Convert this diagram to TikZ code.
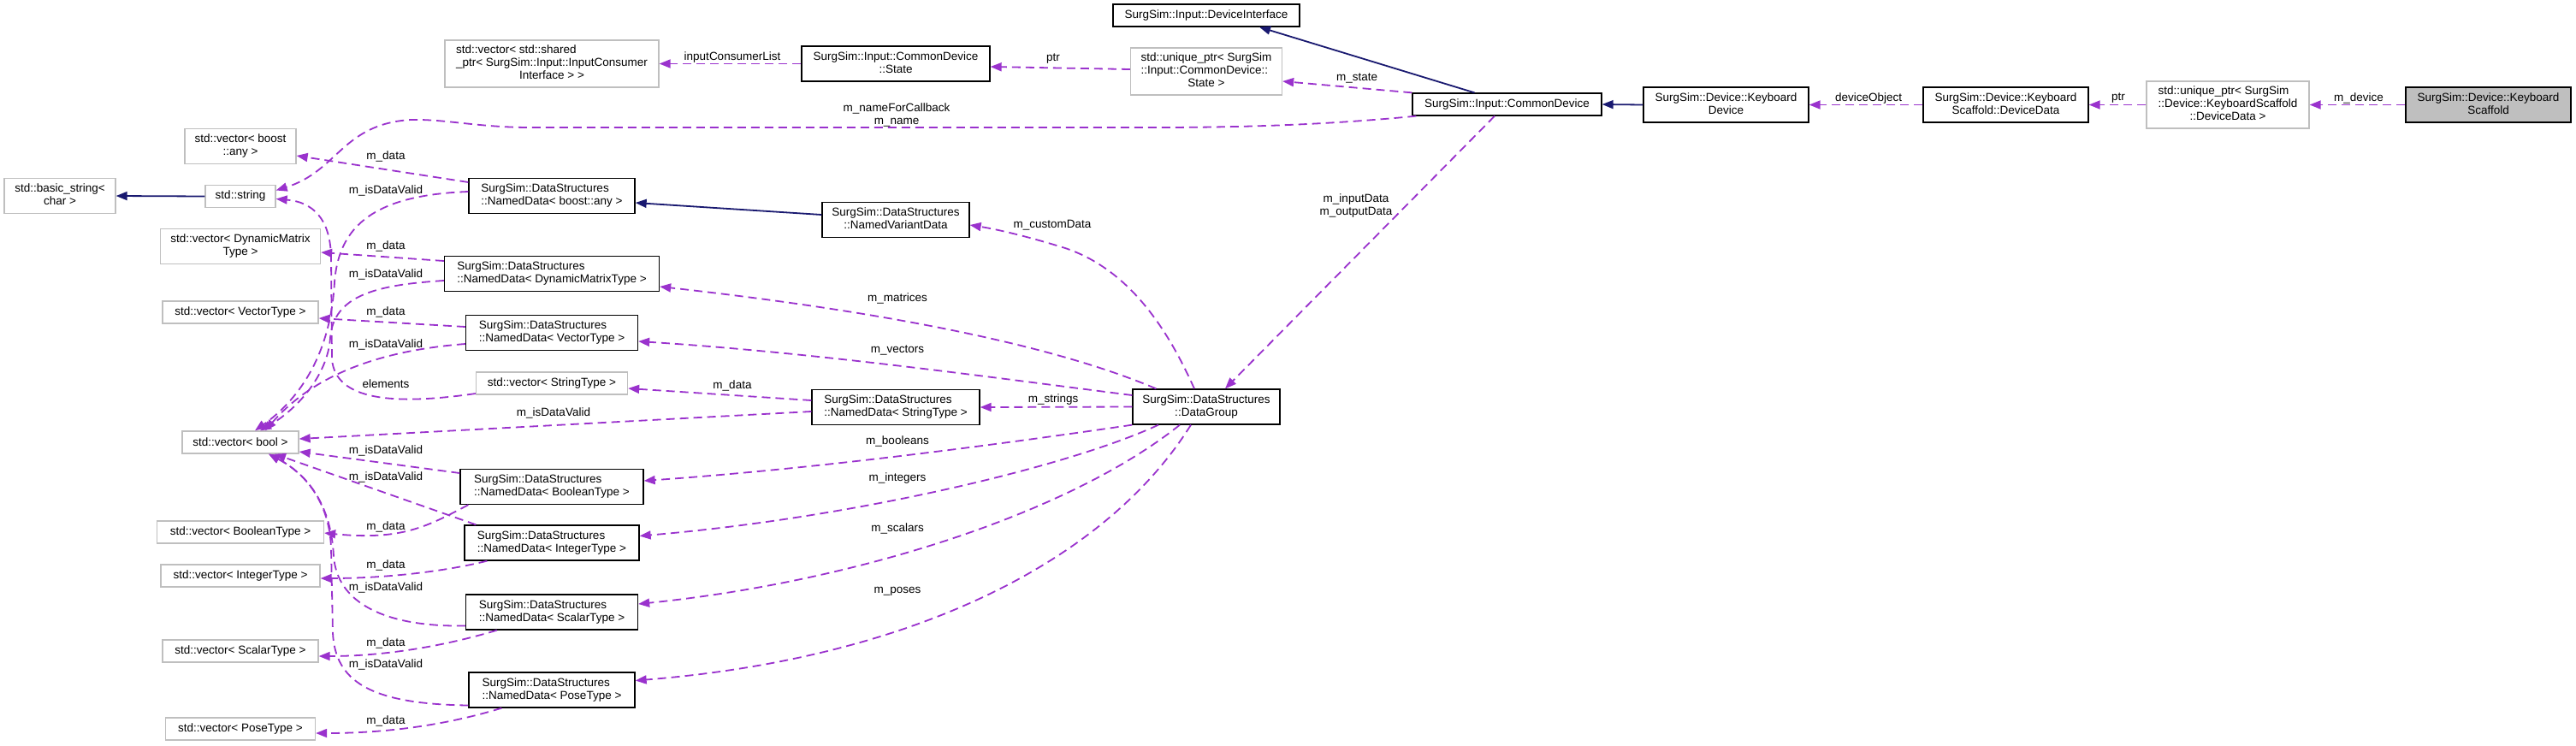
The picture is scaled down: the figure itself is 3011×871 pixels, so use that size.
\documentclass[tikz,border=0pt]{standalone}
\usepackage{fontspec}
\setmainfont{Liberation Sans}
\usetikzlibrary{arrows.meta,calc}
\definecolor{usecol}{HTML}{9A32CD}
\definecolor{inhcol}{HTML}{191970}
\definecolor{extcol}{HTML}{BFBFBF}
\newcommand{\ml}[2]{\begin{tabular}{@{}l@{}}#1\\\multicolumn{1}{@{}c@{}}{#2}\end{tabular}}
\tikzset{
  base/.style={rectangle, inner sep=0pt, font=\fontsize{13.5}{15}\selectfont, fill=white, line width=1.3pt},
  cls/.style={base, draw=black},
  ext/.style={base, draw=extcol},
  mainbox/.style={base, draw=black, fill=extcol},
  one/.style={minimum height=26pt},
  two/.style={minimum height=41pt},
  three/.style={minimum height=55pt},
  use/.style={draw=usecol, line width=1.8pt, dash pattern=on 10pt off 6pt, -{Triangle[length=13pt,width=10pt]}},
  inh/.style={draw=inhcol, line width=1.8pt, -{Triangle[length=13pt,width=10pt]}},
  lbl/.style={inner sep=0pt, font=\fontsize{13.5}{15}\selectfont, text=black, align=center}
}
\begin{document}
\begin{tikzpicture}[x=1pt,y=-1pt]
\fill[white] (0,0) rectangle (3011,871);
\useasboundingbox (0,0) rectangle (3011,871);

% left column
\node[ext, two, minimum width=130pt] (A) at (70,229) {\ml{std::basic\_string<}{char >}};
\node[ext, one, minimum width=82pt] (B) at (281,229.5) {std::string};
\node[ext, two, minimum width=130pt] (C) at (281,171) {\ml{std::vector< boost}{::any >}};
\node[ext, two, minimum width=187pt] (D) at (281,288) {\ml{std::vector< DynamicMatrix}{Type >}};
\node[ext, one, minimum width=182pt] (E) at (281,365) {std::vector< VectorType >};
\node[ext, one, minimum width=136pt] (F) at (281,517) {std::vector< bool >};
\node[ext, one, minimum width=195pt] (G) at (281,622) {std::vector< BooleanType >};
\node[ext, one, minimum width=186pt] (H) at (281,673) {std::vector< IntegerType >};
\node[ext, one, minimum width=182pt] (I) at (281,761) {std::vector< ScalarType >};
\node[ext, one, minimum width=175pt] (J) at (281,852) {std::vector< PoseType >};

% second column
\node[ext, three, minimum width=250pt] (K) at (645,74.5) {\ml{std::vector< std::shared\\\_ptr< SurgSim::Input::InputConsumer}{Interface > >}};
\node[cls, two, minimum width=194pt] (L) at (645,229) {\ml{SurgSim::DataStructures}{::NamedData< boost::any >}};
\node[cls, two, minimum width=251pt] (N) at (645,320) {\ml{SurgSim::DataStructures}{::NamedData< DynamicMatrixType >}};
\node[cls, two, minimum width=201pt] (O) at (645,389) {\ml{SurgSim::DataStructures}{::NamedData< VectorType >}};
\node[ext, one, minimum width=177pt] (P) at (645,448) {std::vector< StringType >};
\node[cls, two, minimum width=214pt] (R) at (645,569) {\ml{SurgSim::DataStructures}{::NamedData< BooleanType >}};
\node[cls, two, minimum width=204pt] (S) at (645,634.5) {\ml{SurgSim::DataStructures}{::NamedData< IntegerType >}};
\node[cls, two, minimum width=201pt] (T) at (645,715.5) {\ml{SurgSim::DataStructures}{::NamedData< ScalarType >}};
\node[cls, two, minimum width=194pt] (U) at (645,806.5) {\ml{SurgSim::DataStructures}{::NamedData< PoseType >}};

% third column
\node[cls, two, minimum width=220pt] (W) at (1047,74.5) {\ml{SurgSim::Input::CommonDevice}{::State}};
\node[cls, two, minimum width=172pt] (M) at (1047,257) {\ml{SurgSim::DataStructures}{::NamedVariantData}};
\node[cls, two, minimum width=196pt] (Q) at (1047,476) {\ml{SurgSim::DataStructures}{::NamedData< StringType >}};

% fourth column
\node[cls, one, minimum width=218pt] (Y) at (1410,18) {SurgSim::Input::DeviceInterface};
\node[ext, three, minimum width=177pt] (X) at (1410,83.5) {\ml{std::unique\_ptr< SurgSim\\::Input::CommonDevice::}{State >}};
\node[cls, two, minimum width=172pt] (V) at (1410,475.5) {\ml{SurgSim::DataStructures}{::DataGroup}};

% right chain
\node[cls, one, minimum width=221pt] (Z) at (1761.5,122) {SurgSim::Input::CommonDevice};
\node[cls, two, minimum width=193pt] (KD) at (2017.5,122.5) {\ml{SurgSim::Device::Keyboard}{Device}};
\node[cls, two, minimum width=193pt] (KDD) at (2344.5,122.5) {\ml{SurgSim::Device::Keyboard}{Scaffold::DeviceData}};
\node[ext, three, minimum width=190pt] (UDD) at (2604,122.5) {\ml{std::unique\_ptr< SurgSim\\::Device::KeyboardScaffold}{::DeviceData >}};
\node[mainbox, two, minimum width=193pt] (KS) at (2908.5,122.5) {\ml{SurgSim::Device::Keyboard}{Scaffold}};

% inheritance
\draw[inh] (B.west) -- (A.east);
\draw[inh] ($(M.west)+(0,-6)$) -- ($(L.east)+(0,8)$);
\draw[inh] ($(Z.north)+(-38,0)$) -- ($(Y.south)+(62,0)$);
\draw[inh] (KD.west) -- (Z.east);

% usage: right part
\draw[use] (KS.west) -- (UDD.east);
\draw[use] (UDD.west) -- (KDD.east);
\draw[use] (KDD.west) -- (KD.east);
\draw[use] (Z.north west) -- ($(X.east)+(0,11.5)$);
\draw[use] ($(X.west)+(0,-2.5)$) -- ($(W.east)+(0,3.5)$);
\draw[use] (W.west) -- (K.east);
\draw[use] ($(Z.south west)+(5,0)$) .. controls (1550,146) and (1450,149) .. (1350,149) -- (620,149) .. controls (560,149) and (520,139) .. (480,140) .. controls (400,145) and (395,200) .. ($(B.east)+(0,-7)$);
\draw[use] ($(Z.south)+(-14.5,0)$) -- ($(V.north)+(22,0)$);

% usage: from DataGroup
\draw[use] ($(V.north)+(-14,0)$) .. controls (1365,385) and (1320,315) .. (1245,290) .. controls (1200,276) and (1165,268) .. ($(M.east)+(0,6)$);
\draw[use] ($(V.north west)+(28,0)$) .. controls (1200,390) and (950,355) .. ($(N.east)+(0,15)$);
\draw[use] ($(V.west)+(0,-13.5)$) .. controls (1150,440) and (950,412) .. ($(O.east)+(0,10)$);
\draw[use] (V.west) -- (Q.east);
\draw[use] (V.south west) .. controls (1150,522) and (950,548) .. ($(R.east)+(0,-7)$);
\draw[use] ($(V.south)+(-56,0)$) .. controls (1250,545) and (1000,605) .. ($(S.east)+(0,-8)$);
\draw[use] ($(V.south)+(-31,0)$) .. controls (1250,600) and (1000,680) .. ($(T.east)+(0,-9.5)$);
\draw[use] ($(V.south)+(-18,0)$) .. controls (1290,660) and (1060,770) .. ($(U.east)+(0,-11)$);

% usage: NamedData members
\draw[use] ($(L.west)+(0,-16)$) -- ($(C.east)+(0,11)$);
\draw[use] ($(L.west)+(0,-5)$) .. controls (440,228) and (396,262) .. (391,330) .. controls (386,420) and (345,470) .. ($(F.north)+(17,0)$);
\draw[use] ($(N.west)+(0,-15)$) -- ($(D.east)+(0,7)$);
\draw[use] ($(N.west)+(0,8)$) .. controls (440,333) and (390,345) .. (386,395) .. controls (383,440) and (345,480) .. ($(F.north)+(23,0)$);
\draw[use] ($(O.west)+(0,-7)$) -- ($(E.east)+(0,7)$);
\draw[use] ($(O.west)+(0,13)$) .. controls (440,410) and (365,440) .. ($(F.north)+(29,0)$);
\draw[use] ($(P.west)+(0,12)$) .. controls (460,474) and (392,468) .. (388,420) -- (387,300) .. controls (386,255) and (365,236) .. ($(B.east)+(0,3)$);
\draw[use] ($(Q.west)+(0,-8)$) -- ($(P.east)+(0,6)$);
\draw[use] ($(Q.west)+(0,5)$) -- ($(F.east)+(0,-4)$);
\draw[use] ($(R.west)+(0,-16)$) -- ($(F.east)+(0,11)$);
\draw[use] ($(R.south west)+(10,0)$) .. controls (500,615) and (470,632) .. ($(G.east)+(0,1)$);
\draw[use] ($(S.north west)+(14,0)$) -- ($(F.south)+(40,0)$);
\draw[use] ($(S.south west)+(27,0)$) .. controls (520,668) and (450,676) .. ($(H.east)+(0,3)$);
\draw[use] ($(T.west)+(0,16)$) .. controls (450,733) and (394,705) .. (390,650) .. controls (387,590) and (360,555) .. ($(F.south)+(33,0)$);
\draw[use] ($(T.south west)+(37,0)$) .. controls (520,755) and (450,767) .. ($(I.east)+(0,6)$);
\draw[use] ($(U.west)+(0,18)$) .. controls (430,823) and (392,795) .. (389,740) -- (387,640) .. controls (385,590) and (360,555) .. ($(F.south)+(33,0)$);
\draw[use] ($(U.south west)+(39,0)$) .. controls (520,848) and (450,857) .. ($(J.east)+(0,5)$);

% labels
\node[lbl] (t1) at (2757,115) {m\_device};
\node[lbl] (t2) at (2476,115) {ptr};
\node[lbl] (t3) at (2184,115) {deviceObject};
\node[lbl] (t4) at (1586,91) {m\_state};
\node[lbl] (t5) at (1231,69) {ptr};
\node[lbl] (t6) at (856,67) {inputConsumerList};
\node[lbl] (t7) at (1048,134) {m\_nameForCallback\\m\_name};
\node[lbl] (t8) at (1585,240.5) {m\_inputData\\m\_outputData};
\node[lbl] (t9) at (1230,263) {m\_customData};
\node[lbl] (t10) at (1049,349) {m\_matrices};
\node[lbl] (t11) at (1049,409) {m\_vectors};
\node[lbl] (t12) at (856,451) {m\_data};
\node[lbl] (t13) at (647,483) {m\_isDataValid};
\node[lbl] (t14) at (1231,467) {m\_strings};
\node[lbl] (t15) at (1049,516) {m\_booleans};
\node[lbl] (t16) at (1049,559) {m\_integers};
\node[lbl] (t17) at (1049,618) {m\_scalars};
\node[lbl] (t18) at (1049,691) {m\_poses};
\node[lbl] (u1) at (451,183) {m\_data};
\node[lbl] (u2) at (451,223) {m\_isDataValid};
\node[lbl] (u3) at (451,288) {m\_data};
\node[lbl] (u4) at (451,321) {m\_isDataValid};
\node[lbl] (u5) at (451,365) {m\_data};
\node[lbl] (u6) at (451,403) {m\_isDataValid};
\node[lbl] (u7) at (451,449) {elements};
\node[lbl] (u8) at (451,527) {m\_isDataValid};
\node[lbl] (u9) at (451,558) {m\_isDataValid};
\node[lbl] (u10) at (451,616) {m\_data};
\node[lbl] (u11) at (451,661) {m\_data};
\node[lbl] (u12) at (451,687) {m\_isDataValid};
\node[lbl] (u13) at (451,752) {m\_data};
\node[lbl] (u14) at (451,777) {m\_isDataValid};
\node[lbl] (u15) at (451,843) {m\_data};
\end{tikzpicture}
\end{document}
